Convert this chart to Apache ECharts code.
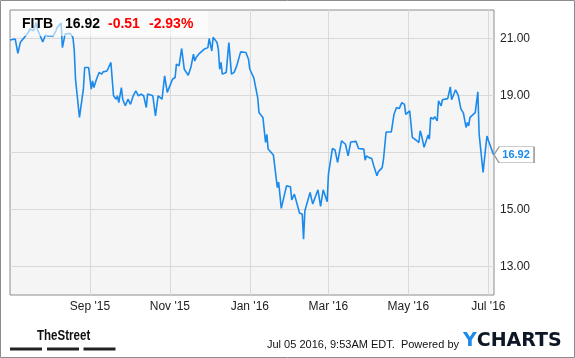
<!DOCTYPE html>
<html>
<head>
<meta charset="utf-8">
<script src="https://cdn.jsdelivr.net/npm/echarts@6/dist/echarts.min.js"></script>
<style>html,body{margin:0;padding:0;background:#fff;}#c{width:575px;height:358px;}</style>
</head>
<body>
<div id="c"></div>
<script>
var dates = [
'2015-07-02','2015-07-06','2015-07-07','2015-07-08','2015-07-10','2015-07-13','2015-07-16','2015-07-17','2015-07-20','2015-07-22',
'2015-07-23','2015-07-24','2015-07-27','2015-07-29','2015-07-31','2015-08-04','2015-08-06','2015-08-07','2015-08-10','2015-08-11',
'2015-08-13','2015-08-17','2015-08-19','2015-08-20','2015-08-21','2015-08-24','2015-08-27','2015-08-28','2015-08-31','2015-09-01',
'2015-09-02','2015-09-03','2015-09-04','2015-09-06','2015-09-07','2015-09-08','2015-09-10','2015-09-11','2015-09-14','2015-09-17',
'2015-09-19','2015-09-21','2015-09-22','2015-09-23','2015-09-25','2015-09-26','2015-09-28','2015-09-30','2015-10-02','2015-10-04',
'2015-10-06','2015-10-08','2015-10-10','2015-10-12','2015-10-14','2015-10-15','2015-10-19','2015-10-21','2015-10-23','2015-10-26',
'2015-10-28','2015-10-30','2015-11-03','2015-11-05','2015-11-06','2015-11-08','2015-11-10','2015-11-12','2015-11-15','2015-11-17',
'2015-11-19','2015-11-20','2015-11-21','2015-11-23','2015-11-27','2015-11-30','2015-12-01','2015-12-03','2015-12-04','2015-12-07',
'2015-12-08','2015-12-09','2015-12-10','2015-12-11','2015-12-14','2015-12-16','2015-12-18','2015-12-20','2015-12-22','2015-12-25',
'2015-12-29','2015-12-31','2016-01-01','2016-01-04','2016-01-05','2016-01-07','2016-01-08','2016-01-11','2016-01-12','2016-01-13',
'2016-01-14','2016-01-15','2016-01-19','2016-01-22','2016-01-23','2016-01-25','2016-01-29','2016-02-01','2016-02-02','2016-02-04',
'2016-02-08','2016-02-10','2016-02-11','2016-02-12','2016-02-16','2016-02-18','2016-02-22','2016-02-24','2016-02-26','2016-02-29',
'2016-03-01','2016-03-04','2016-03-06','2016-03-08','2016-03-11','2016-03-14','2016-03-16','2016-03-18','2016-03-22','2016-03-24',
'2016-03-28','2016-03-29','2016-03-30','2016-04-01','2016-04-03','2016-04-05','2016-04-07','2016-04-08','2016-04-11','2016-04-12',
'2016-04-14','2016-04-18','2016-04-20','2016-04-22','2016-04-24','2016-04-26','2016-04-28','2016-04-29','2016-05-02','2016-05-04',
'2016-05-07','2016-05-09','2016-05-10','2016-05-11','2016-05-13','2016-05-16','2016-05-17','2016-05-18','2016-05-20','2016-05-21',
'2016-05-23','2016-05-24','2016-05-26','2016-05-27','2016-05-31','2016-06-02','2016-06-03','2016-06-06','2016-06-08','2016-06-10',
'2016-06-12','2016-06-14','2016-06-15','2016-06-16','2016-06-17','2016-06-21','2016-06-22','2016-06-23','2016-06-24','2016-06-27',
'2016-06-29','2016-06-30','2016-07-01','2016-07-05'
];
var prices = [
20.95,20.98,20.92,20.48,20.88,21.04,21.21,21.33,21.27,21.56,
21.30,21.21,20.88,21.12,21.09,21.09,21.27,21.39,21.54,20.68,
21.15,21.18,21.04,20.62,19.57,18.23,19.22,19.98,19.98,19.92,
19.22,19.51,19.28,19.57,19.63,19.81,19.75,19.83,19.86,20.16,
18.99,18.87,18.99,18.75,19.28,18.87,18.64,18.87,18.69,18.99,
19.16,18.99,19.05,18.99,18.58,19.05,18.99,18.28,18.99,18.87,
19.69,19.11,19.57,19.63,20.10,20.04,20.65,19.92,19.71,19.98,
20.45,20.21,20.33,20.45,20.62,20.68,21.00,20.56,21.04,20.86,
20.62,19.92,20.16,19.75,19.81,20.86,19.75,19.81,20.04,20.53,
20.51,20.27,19.92,19.63,19.57,18.93,18.40,18.23,18.28,17.35,
17.64,17.12,16.91,15.77,15.96,15.04,15.83,15.80,15.34,15.54,
14.87,14.84,13.96,14.95,15.60,15.19,15.69,15.11,15.69,15.27,
16.24,17.14,17.09,16.65,17.41,17.29,16.88,17.37,17.39,17.14,
17.12,16.73,16.88,16.82,16.79,16.47,16.18,16.32,16.47,16.76,
17.72,17.72,18.34,18.58,18.54,18.75,18.69,18.34,18.46,17.53,
17.43,17.35,17.76,17.61,17.18,17.61,17.47,18.23,18.17,18.26,
18.11,18.81,18.64,18.85,18.89,19.30,18.85,19.20,19.01,18.54,
18.38,17.88,18.05,17.93,18.23,18.40,18.46,19.13,17.64,16.30,
17.18,17.58,17.43,16.92
];
var xTickDates = ['2015-09-01','2015-11-01','2016-01-01','2016-03-01','2016-05-01','2016-07-01'];
var xTickLabels = ["Sep '15","Nov '15","Jan '16","Mar '16","May '16","Jul '16"];
var yTicks = [13, 15, 17, 19, 21];
var xStart = '2015-07-02T00:00:00Z';
var xEnd = '2016-07-05T08:00:00Z';
var ticker = 'FITB';
var lastPrice = '16.92';
var change = '-0.51';
var changePct = '-2.93%';
var stamp = 'Jul 05 2016, 9:53AM EDT.  Powered by';

var FONT = 'Arial, "Liberation Sans", sans-serif';
var ts = function (d) { return Date.parse(d.length === 10 ? d + 'T00:00:00Z' : d); };
var seriesData = dates.map(function (d, i) { return [ts(d), prices[i]]; });
var xTickTs = xTickDates.map(ts);
var lastPt = seriesData[seriesData.length - 1];

var gridLines = xTickTs.map(function (t) { return { xAxis: t }; })
  .concat(yTicks.map(function (v) { return { yAxis: v }; }));

var chart = echarts.init(document.getElementById('c'), null, { renderer: 'canvas' });
chart.setOption({
  animation: false,
  backgroundColor: '#ffffff',
  grid: {
    left: 10, top: 10, width: 484, height: 285,
    show: true, backgroundColor: '#f5f5f5', borderColor: '#8c8c8c', borderWidth: 1
  },
  xAxis: {
    type: 'value',
    min: ts(xStart), max: ts(xEnd),
    axisLine: { show: false },
    axisTick: { show: false },
    splitLine: { show: false },
    axisLabel: {
      customValues: xTickTs,
      margin: 6,
      color: '#222',
      fontSize: 12,
      fontFamily: FONT,
      formatter: function (v) {
        var i = xTickTs.indexOf(v);
        return i >= 0 ? xTickLabels[i] : '';
      }
    }
  },
  yAxis: {
    type: 'value',
    position: 'right',
    min: 12, max: 22, interval: 1,
    axisLine: { show: false },
    axisTick: { show: false },
    splitLine: { show: false },
    axisLabel: {
      margin: 6,
      color: '#222',
      fontSize: 12,
      fontFamily: FONT,
      formatter: function (v) { return yTicks.indexOf(v) >= 0 ? v.toFixed(2) : ''; }
    }
  },
  series: [{
    type: 'line',
    data: seriesData,
    showSymbol: false,
    symbol: 'none',
    z: 3,
    lineStyle: { color: '#1a8aec', width: 1.6 },
    markLine: {
      silent: true,
      z: 1,
      symbol: ['none', 'none'],
      label: { show: false },
      lineStyle: { color: '#d9d9d9', width: 1, type: 'solid' },
      data: gridLines
    },
    markPoint: {
      silent: true,
      z: 10,
      symbol: 'path://M0 8 L5 0 L40 0 L40 16 L5 16 Z',
      symbolSize: [40, 16],
      symbolKeepAspect: false,
      symbolOffset: [20.5, 0],
      itemStyle: { color: '#ffffff', borderColor: '#999999', borderWidth: 1 },
      label: {
        show: true,
        position: 'inside',
        offset: [2, 0],
        color: '#1a8aec',
        fontWeight: 'bold',
        fontSize: 11,
        fontFamily: FONT,
        formatter: function () { return lastPrice; }
      },
      data: [{ coord: lastPt, value: lastPt[1] }]
    }
  }],
  graphic: [
    { type: 'rect', z: 50, shape: { x: 11, y: 11, width: 197, height: 25 }, style: { fill: 'rgba(255,255,255,0.6)' } },
    { type: 'text', z: 51, style: { x: 22, y: 24, text: ticker, font: 'bold 14px ' + FONT, fill: '#000', verticalAlign: 'middle' } },
    { type: 'text', z: 51, style: { x: 65, y: 24, text: lastPrice, font: 'bold 14px ' + FONT, fill: '#000', verticalAlign: 'middle' } },
    { type: 'text', z: 51, style: { x: 108, y: 24, text: change, font: 'bold 14px ' + FONT, fill: '#f00', verticalAlign: 'middle' } },
    { type: 'text', z: 51, style: { x: 149, y: 24, text: changePct, font: 'bold 14px ' + FONT, fill: '#f00', verticalAlign: 'middle' } },
    { type: 'text', z: 51, x: 37, y: 335.5, scaleX: 0.77, style: { x: 0, y: 0, text: 'TheStreet', font: 'bold 15px ' + FONT, fill: '#111', verticalAlign: 'middle' } },
    { type: 'rect', z: 51, shape: { x: 10, y: 347.5, width: 32, height: 3 }, style: { fill: '#222' } },
    { type: 'rect', z: 51, shape: { x: 47, y: 347.5, width: 32, height: 3 }, style: { fill: '#222' } },
    { type: 'rect', z: 51, shape: { x: 83.5, y: 347.5, width: 32, height: 3 }, style: { fill: '#222' } },
    { type: 'text', z: 51, style: { x: 459, y: 345, text: stamp, font: '11px ' + FONT, fill: '#111', align: 'right', verticalAlign: 'middle' } },
    { type: 'text', z: 51, style: { x: 463, y: 341.5, text: '{y|Y}{c|CHARTS}', verticalAlign: 'middle',
        rich: {
          y: { font: 'bold 19px "DejaVu Sans", sans-serif', fill: '#1a8aec', color: '#1a8aec' },
          c: { font: 'bold 19px "DejaVu Sans", sans-serif', fill: '#0e1726', color: '#0e1726' }
        } } },
    { type: 'rect', z: 60, shape: { x: 0.5, y: 0.5, width: 574, height: 357 }, style: { fill: 'none', stroke: '#8c8c8c', lineWidth: 1 } }
  ]
});
</script>
</body>
</html>
